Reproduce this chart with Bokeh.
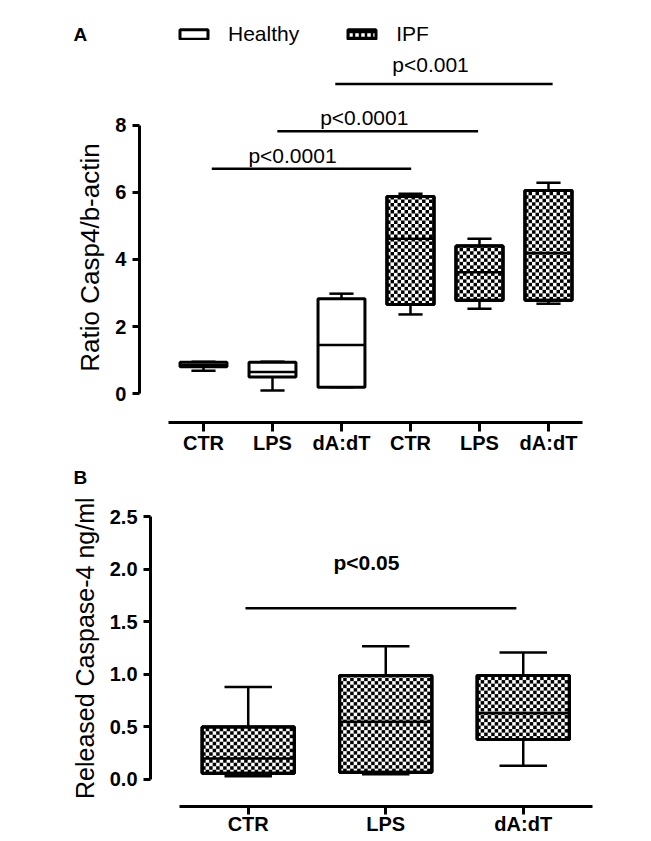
import math

from bokeh.core.properties import value
from bokeh.embed import file_html
from bokeh.layouts import column
from bokeh.models import (ColumnDataSource, FixedTicker, Legend, LegendItem,
                          NumeralTickFormatter, Range1d)
from bokeh.plotting import figure
from bokeh.resources import INLINE

# ---------------- data: panel A ----------------
a_x = [1, 2, 3, 4, 5, 6]
a_labels = ["CTR", "LPS", "dA:dT", "CTR", "LPS", "dA:dT"]
a_group = ["Healthy", "Healthy", "Healthy", "IPF", "IPF", "IPF"]
a_min = [0.68, 0.09, 0.19, 2.36, 2.53, 2.68]
a_q1 = [0.80, 0.49, 0.19, 2.66, 2.78, 2.78]
a_med = [0.85, 0.64, 1.45, 4.62, 3.62, 4.19]
a_q3 = [0.93, 0.93, 2.83, 5.88, 4.40, 6.06]
a_max = [0.95, 0.95, 2.98, 5.96, 4.62, 6.29]
a_yticks = [0, 2, 4, 6, 8]
a_ylabel = "Ratio Casp4/b-actin"

a_sig_x0 = [1.12, 2.07, 2.91]
a_sig_x1 = [4.01, 4.98, 6.06]
a_sig_y = [6.71, 7.83, 9.24]
a_sig_text = ["p<0.0001", "p<0.0001", "p<0.001"]
a_sig_tx = [2.29, 3.33, 4.29]
a_sig_ty = [7.10, 8.25, 9.82]

# ---------------- data: panel B ----------------
b_x = [1, 2, 3]
b_labels = ["CTR", "LPS", "dA:dT"]
b_min = [0.03, 0.05, 0.13]
b_q1 = [0.06, 0.07, 0.38]
b_med = [0.20, 0.55, 0.63]
b_q3 = [0.50, 0.99, 0.99]
b_max = [0.88, 1.27, 1.21]
b_yticks = [0.0, 0.5, 1.0, 1.5, 2.0, 2.5]
b_ylabel = "Released Caspase-4 ng/ml"

b_sig_x0 = [0.98]
b_sig_x1 = [2.95]
b_sig_y = [1.63]
b_sig_text = ["p<0.05"]
b_sig_tx = [1.86]
b_sig_ty = [2.07]

FONT = "Liberation Sans"
CELL_PX = 3.5  # size of one checker square, in screen pixels


def box_source(xs, mins, q1s, meds, q3s, maxs, box_w, cap_w):
    return ColumnDataSource(dict(
        x=xs, q1=q1s, q3=q3s, med=meds, lo=mins, hi=maxs,
        bl=[x - box_w / 2 for x in xs], br=[x + box_w / 2 for x in xs],
        cl=[x - cap_w / 2 for x in xs], cr=[x + cap_w / 2 for x in xs],
    ))


def checker_source(xs, q1s, q3s, box_w, cell_x, cell_y):
    L, R, B, T = [], [], [], []
    for x, lo, hi in zip(xs, q1s, q3s):
        left, right = x - box_w / 2, x + box_w / 2
        nc = math.ceil((right - left) / cell_x - 1e-9)
        nr = math.ceil((hi - lo) / cell_y - 1e-9)
        for r in range(nr):
            for c in range(nc):
                if (r + c) % 2 == 1:
                    L.append(left + c * cell_x)
                    R.append(min(left + (c + 1) * cell_x, right))
                    B.append(lo + r * cell_y)
                    T.append(min(lo + (r + 1) * cell_y, hi))
    return ColumnDataSource(dict(left=L, right=R, bottom=B, top=T))


def px_per_unit(p):
    return (p.width / (p.x_range.end - p.x_range.start),
            p.height / (p.y_range.end - p.y_range.start))


def draw_boxes(p, src, hatched, box_w, xs=None, q1s=None, q3s=None):
    lw = 2.5
    p.segment(x0="x", y0="q3", x1="x", y1="hi", source=src, line_color="black", line_width=lw)
    p.segment(x0="x", y0="q1", x1="x", y1="lo", source=src, line_color="black", line_width=lw)
    p.segment(x0="cl", y0="hi", x1="cr", y1="hi", source=src, line_color="black", line_width=lw)
    p.segment(x0="cl", y0="lo", x1="cr", y1="lo", source=src, line_color="black", line_width=lw)
    key = None
    if hatched:
        # hatched copy underneath: hidden by the boxes, provides the legend swatch
        key = p.vbar(x="x", width=box_w, top="q3", bottom="q1", source=src,
                     fill_color="white", line_color="black", line_width=3,
                     hatch_pattern="cross", hatch_scale=6, hatch_weight=2.5,
                     hatch_color="black")
    r = p.vbar(x="x", width=box_w, top="q3", bottom="q1", source=src,
               fill_color="white", line_color="black", line_width=3)
    if hatched:
        ux, uy = px_per_unit(p)
        cells = checker_source(xs, q1s, q3s, box_w, CELL_PX / ux, CELL_PX / uy)
        p.quad(left="left", right="right", bottom="bottom", top="top", source=cells,
               fill_color="black", line_color=None)
        p.vbar(x="x", width=box_w, top="q3", bottom="q1", source=src,
               fill_color=None, line_color="black", line_width=3)
    p.segment(x0="bl", y0="med", x1="br", y1="med", source=src, line_color="black", line_width=2.5)
    return key if hatched else r


def style(p, xticks, xlabels, xbounds, xloc, yticks, ybounds, yloc, yfmt=None):
    p.xgrid.visible = False
    p.ygrid.visible = False
    p.outline_line_color = None
    p.background_fill_color = "white"
    p.border_fill_color = "white"
    xa = p.xaxis[0]
    ya = p.yaxis[0]
    xa.fixed_location = xloc
    ya.fixed_location = yloc
    xa.ticker = FixedTicker(ticks=xticks)
    xa.major_label_overrides = {x: l for x, l in zip(xticks, xlabels)}
    xa.bounds = xbounds
    ya.ticker = FixedTicker(ticks=yticks)
    ya.bounds = ybounds
    if yfmt:
        ya.formatter = NumeralTickFormatter(format=yfmt)
    for ax in (xa, ya):
        ax.axis_line_width = 3
        ax.axis_line_color = "black"
        ax.major_tick_line_width = 3
        ax.major_tick_line_color = "black"
        ax.minor_tick_line_color = None
        ax.major_tick_in = 0
        ax.major_label_text_font = FONT
        ax.major_label_text_font_style = "bold"
        ax.major_label_text_font_size = "20px"
        ax.major_label_text_color = "black"
    xa.major_tick_out = 9
    xa.major_label_standoff = 0
    ya.major_tick_out = 7
    ya.major_label_standoff = 6


def add_texts(p, tx, ty, texts, bold):
    src = ColumnDataSource(dict(x=tx, y=ty, t=texts))
    p.text(x="x", y="y", text="t", source=src, text_align="center", text_baseline="middle",
           text_font=value(FONT), text_font_size="21px",
           text_font_style="bold" if bold else "normal", text_color="black")


def add_sig(p, x0, x1, y):
    src = ColumnDataSource(dict(x0=x0, x1=x1, y=y))
    p.segment(x0="x0", y0="y", x1="x1", y1="y", source=src, line_color="black", line_width=2.5)


def add_free_text(p, x, y, text, size, style_, angle=0.0, align="center"):
    p.text(x=[x], y=[y], text=[text], angle=angle, text_align=align, text_baseline="middle",
           text_font=value(FONT), text_font_size=size, text_font_style=style_,
           text_color="black")


def pick(arr, idx):
    return [arr[i] for i in idx]


# ---------------- panel A ----------------
pA = figure(width=645, height=459, output_backend="svg", toolbar_location=None,
            x_range=Range1d(-1.942, 7.406), y_range=Range1d(-1.970, 11.731),
            min_border=0)
style(pA, a_x, a_labels, (0.5, 6.5), -0.8657, a_yticks, (0, 8), 0.0725)

ih = [i for i, g in enumerate(a_group) if g == "Healthy"]
ii = [i for i, g in enumerate(a_group) if g == "IPF"]
srcH = box_source(pick(a_x, ih), pick(a_min, ih), pick(a_q1, ih), pick(a_med, ih),
                  pick(a_q3, ih), pick(a_max, ih), 0.68, 0.35)
srcI = box_source(pick(a_x, ii), pick(a_min, ii), pick(a_q1, ii), pick(a_med, ii),
                  pick(a_q3, ii), pick(a_max, ii), 0.68, 0.35)
rH = draw_boxes(pA, srcH, False, 0.68)
rI = draw_boxes(pA, srcI, True, 0.68, pick(a_x, ii), pick(a_q1, ii), pick(a_q3, ii))
add_sig(pA, a_sig_x0, a_sig_x1, a_sig_y)
add_texts(pA, a_sig_tx, a_sig_ty, a_sig_text, False)
add_free_text(pA, -0.645, 4.06, a_ylabel, "26px", "normal", angle=math.pi / 2)
add_free_text(pA, -0.884, 10.72, "A", "19px", "bold", align="left")

legend = Legend(items=[LegendItem(label="Healthy", renderers=[rH]),
                       LegendItem(label="IPF", renderers=[rI])],
                location=(176, 413), orientation="horizontal",
                glyph_width=35, glyph_height=12, label_standoff=17, spacing=45,
                padding=0, margin=0, border_line_color=None, background_fill_alpha=0,
                label_text_font=FONT, label_text_font_size="21px", label_text_color="black")
pA.add_layout(legend)

# ---------------- panel B ----------------
pB = figure(width=645, height=382, output_backend="svg", toolbar_location=None,
            x_range=Range1d(-0.8015, 3.889), y_range=Range1d(-0.5905, 3.0476),
            min_border=0)
style(pB, b_x, b_labels, (0.5, 3.5), -0.257, b_yticks, (0, 2.5), 0.2895, "0.0")
pB.xaxis[0].major_tick_out = 8
pB.xaxis[0].major_label_standoff = -1
srcB = box_source(b_x, b_min, b_q1, b_med, b_q3, b_max, 0.67, 0.345)
draw_boxes(pB, srcB, True, 0.67, b_x, b_q1, b_q3)
add_sig(pB, b_sig_x0, b_sig_x1, b_sig_y)
add_texts(pB, b_sig_tx, b_sig_ty, b_sig_text, True)
add_free_text(pB, -0.19, 1.25, b_ylabel, "25px", "normal", angle=math.pi / 2)
add_free_text(pB, -0.2705, 2.88, "B", "19px", "bold", align="left")

layout = column(pA, pB, spacing=0)
open("out.html", "w").write(file_html(layout, INLINE))
